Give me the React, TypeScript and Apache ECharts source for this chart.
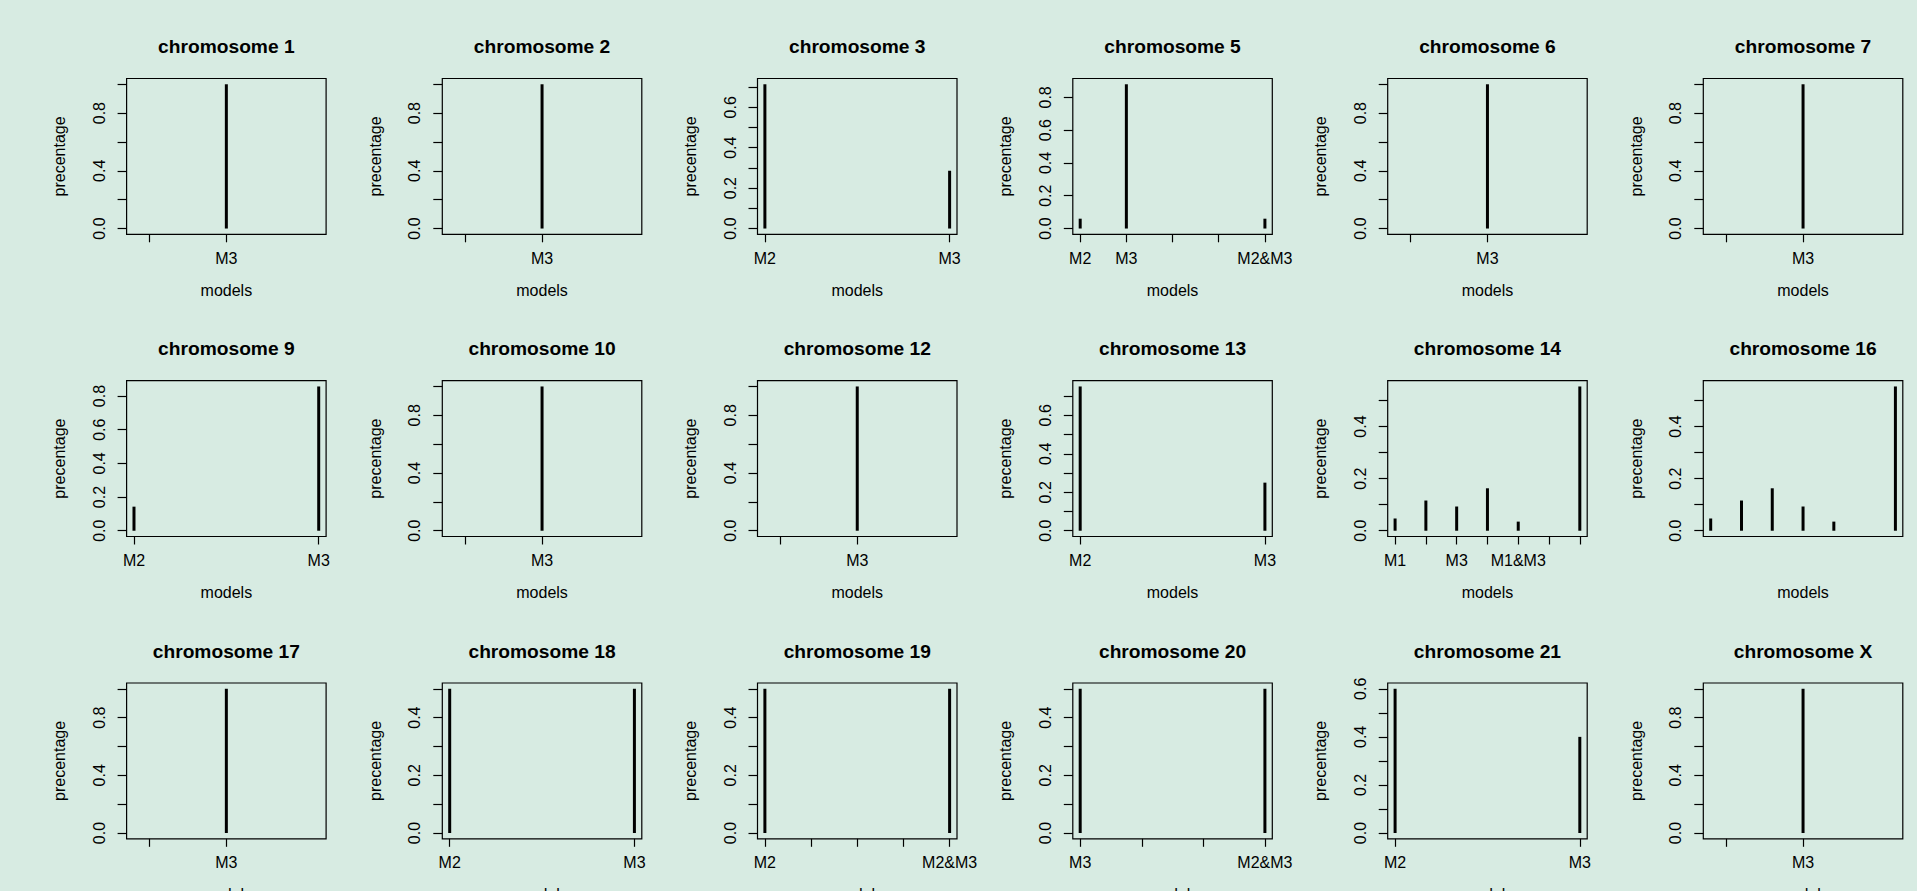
import React, { useEffect, useRef } from "react";
import * as echarts from "echarts";

// ---------- data ----------
const chromosomes = ["1", "2", "3", "5", "6", "7", "9", "10", "12", "13", "14", "16", "17", "18", "19", "20", "21", "X"];

// model labels at axis positions 1..n ("" = unlabelled tick)
const singleModels = ["", "", "M3"];
const pairM2M3 = ["M2", "M3"];
const chr5Models = ["M2", "M3", "", "", "M2&M3"];
const chr14Models = ["M1", "", "M3", "", "M1&M3", "", ""];
const chr16Models: string[] = [];
const chr19Models = ["M2", "", "", "", "M2&M3"];
const chr20Models = ["M3", "", "", "M2&M3"];

// percentages at positions 1..n (null = no line)
const chr1Values = [null, null, 1.0];
const chr2Values = [null, null, 1.0];
const chr3Values = [0.714, 0.286];
const chr5Values = [0.06, 0.88, null, null, 0.06];
const chr6Values = [null, null, 1.0];
const chr7Values = [null, null, 1.0];
const chr9Values = [0.143, 0.857];
const chr10Values = [null, null, 1.0];
const chr12Values = [null, null, 1.0];
const chr13Values = [0.75, 0.25];
const chr14Values = [0.047, 0.116, 0.093, 0.163, 0.035, null, 0.554];
const chr16Values = [0.047, 0.116, 0.163, 0.093, 0.035, null, 0.554];
const chr17Values = [null, null, 1.0];
const chr18Values = [0.5, 0.5];
const chr19Values = [0.5, null, null, null, 0.5];
const chr20Values = [0.5, null, null, 0.5];
const chr21Values = [0.6, 0.4];
const chrXValues = [null, null, 1.0];

// y tick marks and labelled ticks
const yTicksTo1 = [0, 0.2, 0.4, 0.6, 0.8, 1.0];
const yLabelsTo1 = [0, 0.4, 0.8];
const yTicksTo08 = [0, 0.2, 0.4, 0.6, 0.8];
const yLabelsTo08 = [0, 0.2, 0.4, 0.6, 0.8];
const yTicksTo07 = [0, 0.1, 0.2, 0.3, 0.4, 0.5, 0.6, 0.7];
const yLabelsTo07 = [0, 0.2, 0.4, 0.6];
const yTicksTo06 = [0, 0.1, 0.2, 0.3, 0.4, 0.5, 0.6];
const yLabelsTo06 = [0, 0.2, 0.4, 0.6];
const yTicksTo05 = [0, 0.1, 0.2, 0.3, 0.4, 0.5];
const yLabelsTo05 = [0, 0.2, 0.4];

const panelModels = [
  singleModels, singleModels, pairM2M3, chr5Models, singleModels, singleModels,
  pairM2M3, singleModels, singleModels, pairM2M3, chr14Models, chr16Models,
  singleModels, pairM2M3, chr19Models, chr20Models, pairM2M3, singleModels,
];
const panelValues = [
  chr1Values, chr2Values, chr3Values, chr5Values, chr6Values, chr7Values,
  chr9Values, chr10Values, chr12Values, chr13Values, chr14Values, chr16Values,
  chr17Values, chr18Values, chr19Values, chr20Values, chr21Values, chrXValues,
];
const panelYTicks = [
  yTicksTo1, yTicksTo1, yTicksTo07, yTicksTo08, yTicksTo1, yTicksTo1,
  yTicksTo08, yTicksTo1, yTicksTo1, yTicksTo07, yTicksTo05, yTicksTo05,
  yTicksTo1, yTicksTo05, yTicksTo05, yTicksTo05, yTicksTo06, yTicksTo1,
];
const panelYLabels = [
  yLabelsTo1, yLabelsTo1, yLabelsTo07, yLabelsTo08, yLabelsTo1, yLabelsTo1,
  yLabelsTo08, yLabelsTo1, yLabelsTo1, yLabelsTo07, yLabelsTo05, yLabelsTo05,
  yLabelsTo1, yLabelsTo05, yLabelsTo05, yLabelsTo05, yLabelsTo06, yLabelsTo1,
];

// ---------- layout ----------
const W = 1917;
const H = 891;
const COL_LEFT = [126.6, 442.3, 757.5, 1072.8, 1387.7, 1703.3];
const ROW_TOP = [78.5, 380.7, 683.0];
const BOX_W = 199.5;
const BOX_H = 155.8;
const BG = "#d7ebe2";
const FONT = '"Liberation Sans", Arial, Helvetica, sans-serif';

// R-style axis range: data range extended by 4% (zero-width range widened by 40%)
function rRange(lo: number, hi: number): [number, number] {
  if (lo === hi) {
    if (lo === 0) { lo = -1; hi = 1; } else { const d = Math.abs(lo) * 0.4; lo -= d; hi += d; }
  }
  const pad = (hi - lo) * 0.04;
  return [lo - pad, hi + pad];
}

function buildOption() {
  const grid: any[] = [];
  const xAxis: any[] = [];
  const yAxis: any[] = [];
  const series: any[] = [];
  const graphic: any[] = [];

  chromosomes.forEach((chr, i) => {
    const row = Math.floor(i / 6);
    const col = i % 6;
    const left = COL_LEFT[col];
    const top = ROW_TOP[row];
    const models = panelModels[i];
    const values = panelValues[i];

    const pts: [number, number][] = [];
    values.forEach((v, k) => { if (v !== null) pts.push([k + 1, v as number]); });
    const xs = pts.map((p) => p[0]);
    const [xmin, xmax] = rRange(Math.min(...xs), Math.max(...xs));
    const ymaxData = Math.max(...pts.map((p) => p[1]));
    const [ymin, ymax] = rRange(0, ymaxData);

    const tickPos: number[] = [];
    const labelPos: number[] = [];
    models.forEach((m, k) => {
      const p = k + 1;
      if (p >= xmin && p <= xmax) {
        tickPos.push(p);
        if (m) labelPos.push(p);
      }
    });

    grid.push({
      left, top, width: BOX_W, height: BOX_H,
      show: true, borderColor: "#000", borderWidth: 1.2, backgroundColor: "transparent",
      containLabel: false, outerBoundsMode: "none",
    });

    xAxis.push({
      gridIndex: i, type: "value", min: xmin, max: xmax, position: "bottom",
      splitLine: { show: false },
      axisLine: { show: false, onZero: false },
      axisTick: { show: tickPos.length > 0, inside: false, length: 8, customValues: tickPos, lineStyle: { color: "#000", width: 1.2 } },
      axisLabel: {
        show: labelPos.length > 0, customValues: labelPos, margin: 16,
        color: "#000", fontSize: 16, fontFamily: FONT, lineHeight: 16,
        formatter: (v: number) => models[Math.round(v) - 1] || "",
      },
      name: "models", nameLocation: "middle", nameGap: 48,
      nameTextStyle: { color: "#000", fontSize: 16, fontFamily: FONT, lineHeight: 16 },
    });

    yAxis.push({
      gridIndex: i, type: "value", min: ymin, max: ymax, position: "left",
      splitLine: { show: false },
      axisLine: { show: false, onZero: false },
      axisTick: { show: true, inside: false, length: 9, customValues: panelYTicks[i], lineStyle: { color: "#000", width: 1.2 } },
      axisLabel: {
        customValues: panelYLabels[i], rotate: 90, margin: 19.5,
        color: "#000", fontSize: 16, fontFamily: FONT, lineHeight: 16,
        formatter: (v: number) => v.toFixed(1),
      },
      name: "precentage", nameLocation: "middle", nameRotate: 90, nameGap: 59,
      nameTextStyle: { color: "#000", fontSize: 16, fontFamily: FONT, lineHeight: 16 },
    });

    series.push({
      type: "bar", xAxisIndex: i, yAxisIndex: i, barWidth: 3,
      data: pts, itemStyle: { color: "#000" }, silent: true,
    });

    graphic.push({
      type: "text", x: left + BOX_W / 2, y: top - 32,
      style: {
        text: "chromosome " + chr, align: "center", verticalAlign: "middle",
        font: 'bold 19.2px "Liberation Sans", Arial, sans-serif', fill: "#000",
      },
    });
  });

  return {
    animation: false,
    backgroundColor: BG,
    grid, xAxis, yAxis, series, graphic,
  };
}

export default function App() {
  const ref = useRef<HTMLDivElement>(null);
  useEffect(() => {
    document.body.style.margin = "0";
    document.body.style.background = BG;
    const chart = echarts.init(ref.current!, null, { renderer: "svg", width: W, height: H });
    chart.setOption(buildOption() as any);
    return () => chart.dispose();
  }, []);
  return <div ref={ref} style={{ position: "fixed", left: 0, top: 0, width: W, height: H }} />;
}
